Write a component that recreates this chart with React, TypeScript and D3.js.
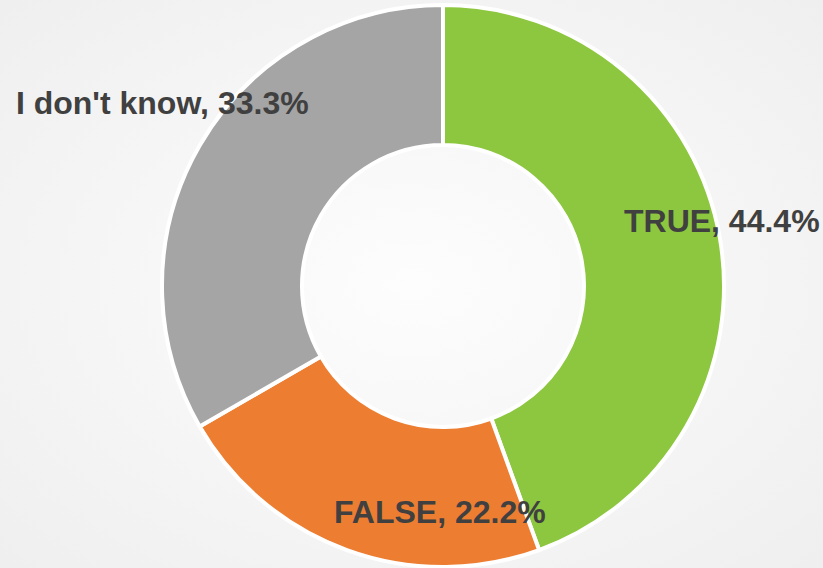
import React from "react";
import * as d3 from "d3";

const categories = ["TRUE", "FALSE", "I don't know"];
const values = [44.4, 22.2, 33.3];
const colors = ["#8dc63f", "#ed7d31", "#a5a5a5"];
// label offset from slice centroid (px), best-fit style placement
const labelDx = [71, 69, -98];
const labelDy = [-28, 28, -78];

const W = 823;
const H = 568;

export default function App() {
  React.useEffect(() => {
    document.body.style.margin = "0";
  }, []);
  const cx = 443;
  const cy = 286;
  const rOuter = 281;
  const rInner = 141;
  const pie = d3.pie<number>().sort(null).value((d) => d)(values);
  const arc = d3.arc<d3.PieArcDatum<number>>().innerRadius(rInner).outerRadius(rOuter);
  const total = d3.sum(values);
  return (
    <svg width={W} height={H} style={{ display: "block" }}>
      <defs>
        <radialGradient id="bg" cx="50%" cy="50%" r="75%">
          <stop offset="0%" stopColor="#fdfdfd" />
          <stop offset="100%" stopColor="#eeeeee" />
        </radialGradient>
      </defs>
      <rect x={0} y={0} width={W} height={H} fill="url(#bg)" />
      <g transform={`translate(${cx},${cy})`}>
        {pie.map((p, i) => (
          <path key={i} d={arc(p) || ""} fill={colors[i]} stroke="#ffffff" strokeWidth={4} strokeLinejoin="round" />
        ))}
        {pie.map((p, i) => {
          const [x, y] = arc.centroid(p);
          const pct = ((values[i] / total) * 100).toFixed(1);
          return (
            <text
              key={"t" + i}
              x={x + labelDx[i]}
              y={y + labelDy[i]}
              textAnchor="middle"
              dominantBaseline="central"
              fontFamily="'Liberation Sans', Arial, sans-serif"
              fontWeight="bold"
              fontSize={32}
              fill="#404040"
            >
              {`${categories[i]}, ${pct}%`}
            </text>
          );
        })}
      </g>
    </svg>
  );
}
